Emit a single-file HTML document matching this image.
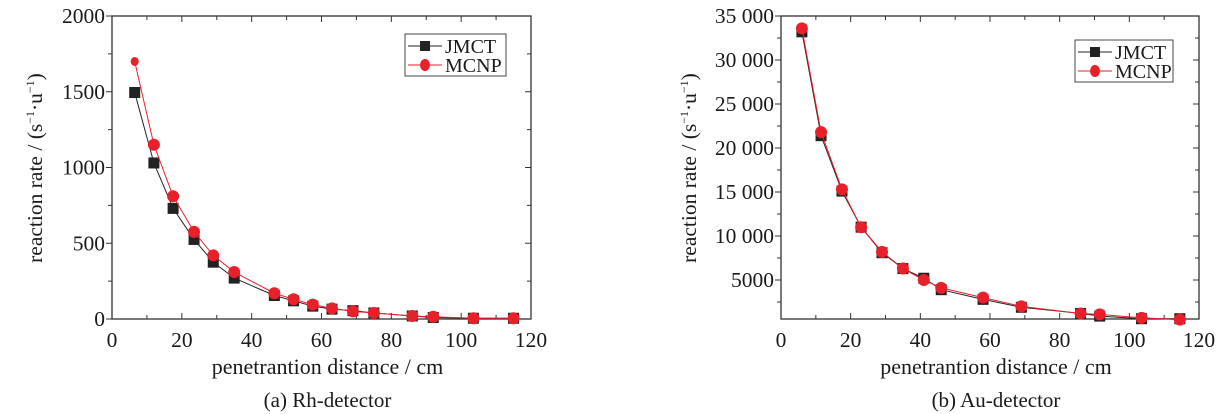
<!DOCTYPE html>
<html><head><meta charset="utf-8"><style>
body{margin:0;background:#fff;}
svg{display:block;font-family:"Liberation Serif",serif;}
text{fill:#1a1a1a;}
</style></head><body>
<svg id="s" width="1232" height="414" viewBox="0 0 1232 414" xmlns="http://www.w3.org/2000/svg"></svg>
<script>
const s=document.getElementById('s');let h='';
function plot(o){
 const X=x=>o.x0+(o.x1-o.x0)*x/120, Y=v=>o.Y(v);
 h+=`<rect x="${o.x0}" y="16" width="${o.x1-o.x0}" height="303" fill="none" stroke="#333" stroke-width="1.3"/>`;
 for(let x=0;x<=120;x+=10){const px=X(x),L=x%20==0?6:4;
  h+=`<line x1="${px}" y1="319" x2="${px}" y2="${319-L}" stroke="#333"/><line x1="${px}" y1="16" x2="${px}" y2="${16+L}" stroke="#333"/>`;
  if(x%20==0)h+=`<text x="${px}" y="347" font-size="21.5" text-anchor="middle">${x}</text>`;}
 o.yt.forEach(([v,l])=>{const py=Y(v);h+=`<line x1="${o.x0-6}" y1="${py}" x2="${o.x0}" y2="${py}" stroke="#333"/><line x1="${o.x1}" y1="${py}" x2="${o.x1-6}" y2="${py}" stroke="#333"/><text x="${o.x0-7}" y="${py+7}" font-size="21.5" text-anchor="end">${l}</text>`;});
 o.ym.forEach(v=>{const py=Y(v);h+=`<line x1="${o.x0-4}" y1="${py}" x2="${o.x0}" y2="${py}" stroke="#333"/><line x1="${o.x1}" y1="${py}" x2="${o.x1-4}" y2="${py}" stroke="#333"/>`;});
 const pj=o.xs.map((x,i)=>X(o.xs[i])+','+Y(o.j[i])).join(' ');
 const pm=o.xm.map((x,i)=>X(x)+','+Y(o.m[i])).join(' ');
 h+=`<polyline points="${pj}" fill="none" stroke="#222" stroke-width="1"/>`;
 o.xs.forEach((x,i)=>h+=`<rect x="${X(x)-5.5}" y="${Y(o.j[i])-5.5}" width="11" height="11" fill="#222"/>`);
 h+=`<polyline points="${pm}" fill="none" stroke="#e8202a" stroke-width="1"/>`;
 o.xm.forEach((x,i)=>h+=`<ellipse cx="${X(x)}" cy="${Y(o.m[i])}" rx="${i==0&&o.small?4:6}" ry="${i==0&&o.small?4.5:6}" fill="#e8202a"/>`);
 const [lx,ly,lw,lh]=o.leg;
 h+=`<rect x="${lx}" y="${ly}" width="${lw}" height="${lh}" fill="#fff" stroke="#444"/>
 <line x1="${lx+3}" y1="${ly+12}" x2="${lx+37}" y2="${ly+12}" stroke="#222"/><rect x="${lx+15}" y="${ly+7}" width="10" height="10" fill="#222"/>
 <text x="${lx+40}" y="${ly+19}" font-size="20">JMCT</text>
 <line x1="${lx+3}" y1="${ly+31}" x2="${lx+37}" y2="${ly+31}" stroke="#e8202a"/><ellipse cx="${lx+20}" cy="${ly+31}" rx="5" ry="6" fill="#e8202a"/>
 <text x="${lx+40}" y="${ly+38}" font-size="20">MCNP</text>`;
 const cx=(o.x0+o.x1)/2+6;
 h+=`<text x="${cx}" y="374" font-size="22" text-anchor="middle">penetrantion distance / cm</text>`;
 h+=`<text x="${cx}" y="407" font-size="21" text-anchor="middle">${o.cap}</text>`;
 h+=`<text transform="translate(${o.lx},168) rotate(-90)" font-size="21.5" text-anchor="middle">reaction rate / (s<tspan dy="-8" font-size="12">−1</tspan><tspan dy="8">·u</tspan><tspan dy="-8" font-size="12">−1</tspan><tspan dy="8">)</tspan></text>`;
}
plot({x0:112,x1:531,Y:v=>319-v*0.1515,
 yt:[[0,'0'],[500,'500'],[1000,'1000'],[1500,'1500'],[2000,'2000']],ym:[250,750,1250,1750],
 xs:[6.5,12,17.5,23.5,29,35,46.5,52,57.5,63,69,75,86,92,103.5,115],
 j:[1495,1030,730,525,375,270,155,120,85,65,55,40,20,10,5,5],
 xm:[6.5,12,17.5,23.5,29,35,46.5,52,57.5,63,69,75,86,92,103.5,115],
 m:[1700,1150,810,575,420,310,170,130,95,70,50,40,20,15,5,5],small:true,
 leg:[405,34,101,42],cap:'(a) Rh-detector',lx:42});
plot({x0:781,x1:1199,Y:v=>16+(35000-v)*0.0088,
 yt:[[5000,'5000'],[10000,'10 000'],[15000,'15 000'],[20000,'20 000'],[25000,'25 000'],[30000,'30 000'],[35000,'35 000']],ym:[7500,12500,17500,22500,27500,32500,2500],
 xs:[6,11.5,17.5,23,29,35,41,46,58,69,86,91.5,103.5,114.5],
 j:[33200,21400,15100,11000,8100,6300,5200,3900,2800,1900,1200,900,600,600],
 xm:[6,11.5,17.5,23,29,35,41,46,58,69,86,91.5,103.5,114.5],
 m:[33600,21800,15300,11000,8200,6300,5000,4100,3000,2000,1200,1100,700,500],
 leg:[1075,40,98,42],cap:'(b) Au-detector',lx:696});
s.innerHTML=h;
</script>
</body></html>
